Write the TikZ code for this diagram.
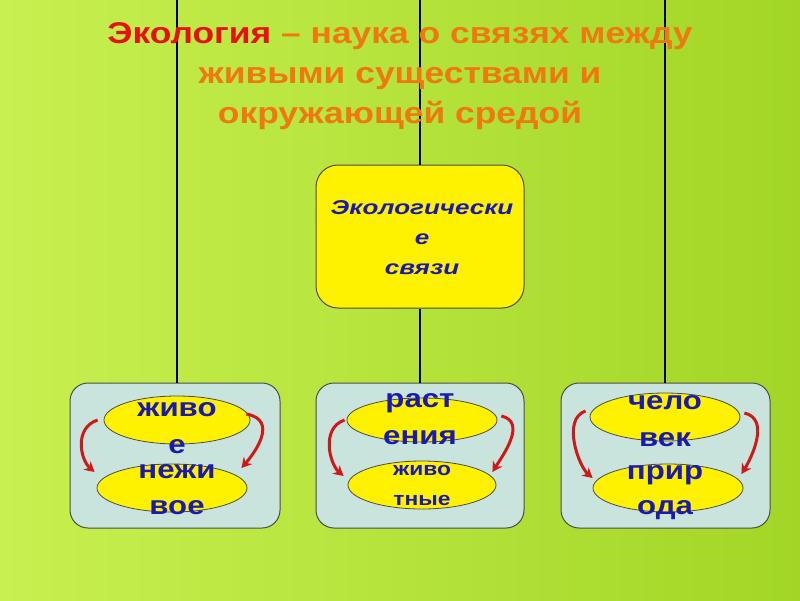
\documentclass[tikz,border=0pt]{standalone}
\usepackage{fontspec}
\setmainfont{Liberation Sans}
\usetikzlibrary{shapes.geometric,arrows.meta}
\definecolor{bgL}{HTML}{C8F050}
\definecolor{bgR}{HTML}{A2D626}
\definecolor{ttl}{HTML}{F07810}
\definecolor{ttr}{HTML}{E81010}
\definecolor{txb}{HTML}{1A1AB0}
\definecolor{boxb}{HTML}{C8E4DC}
\definecolor{arr}{HTML}{D01818}
\newcommand{\wstretch}[1]{\scalebox{1.2}[1]{#1}}
\begin{document}
\begin{tikzpicture}[x=1pt,y=-1pt,
 panel/.style={draw=black!70,line width=1pt,fill=boxb,rounded corners=18pt},
 oval/.style={ellipse,draw=black!70,line width=0.8pt,fill=yellow,inner sep=0pt},
 wtxt/.style={font=\bfseries\fontsize{26}{26}\selectfont,text=txb},
 stxt/.style={font=\bfseries\fontsize{19}{19}\selectfont,text=txb},
 carr/.style={draw=arr,line width=3pt,-{Stealth[length=10pt,width=11pt]}},
 conn/.style={draw=black,line width=1.2pt}]
\shade[left color=bgL,right color=bgR] (0,0) rectangle (800,600);
\useasboundingbox (0,0) rectangle (800,600);
\coordinate (tl) at (177,0); \coordinate (tm) at (420,0); \coordinate (tr) at (665,0);
\node[draw=black!70,line width=1pt,fill=yellow,rounded corners=22pt,minimum width=208pt,minimum height=143pt] (c) at (420,236.5) {};
\node[panel,minimum width=210pt,minimum height=145pt] (p1) at (175,455.5) {};
\node[panel,minimum width=208pt,minimum height=145pt] (p2) at (420,455.5) {};
\node[panel,minimum width=209pt,minimum height=145pt] (p3) at (665.5,455.5) {};
\draw[conn] (tl) -- (p1.north -| tl);
\draw[conn] (tr) -- (p3.north -| tr);
\draw[conn] (tm) -- (c.north);
\draw[conn] (c.south) -- (p2.north);
\node[font=\bfseries\fontsize{30}{40}\selectfont,text=ttl,align=center] (title) at (400,76)
 {\scalebox{1.18}[1]{\textcolor{ttr}{Экология} – наука о связях между}\\\scalebox{1.18}[1]{живыми существами и}\\\scalebox{1.18}[1]{окружающей средой}};
\node[font=\bfseries\itshape\fontsize{20}{30}\selectfont,text=txb,align=center] (ct) at (422,238) {\scalebox{1.3}[1]{Экологически}\\\scalebox{1.3}[1]{е}\\\scalebox{1.3}[1]{связи}};
% left
\node[oval,minimum width=146pt,minimum height=48pt] (a1) at (177,420) {};
\node[oval,minimum width=150pt,minimum height=48pt] (a2) at (172,488) {};
\node[wtxt] (a1t) at (177,410) {\wstretch{живо}};
\node[wtxt] (a1e) at (177,447) {\wstretch{е}};
\node[wtxt] (a2t) at (177,472) {\wstretch{нежи}};
\node[wtxt] (a2e) at (177,508) {\wstretch{вое}};
\draw[carr] ([xshift=-6pt]a1.west) .. controls +(-24,8) and +(-14,-12) .. ([xshift=-2pt]a2.west |- 0,472);
\draw[carr] ([xshift=-4pt,yshift=6pt]a1.east) .. controls +(32,6) and +(14,-16) .. ([xshift=-6pt]a2.east |- 0,468);
% middle
\node[oval,minimum width=150pt,minimum height=44pt] (b1) at (422,420) {};
\node[oval,minimum width=148pt,minimum height=48pt] (b2) at (422,485) {};
\node[wtxt] (b1t) at (420,403) {\wstretch{раст}};
\node[wtxt] (b1e) at (420,438) {\wstretch{ения}};
\node[stxt] (b2t) at (422,470) {\wstretch{живо}};
\node[stxt] (b2e) at (422,500) {\wstretch{тные}};
\draw[carr] ([xshift=-2pt]b1.west) .. controls +(-24,8) and +(-14,-12) .. ([xshift=-4pt]b2.west |- 0,476);
\draw[carr] ([xshift=4pt,yshift=4pt]b1.east) .. controls +(26,6) and +(10,-16) .. ([xshift=-4pt]b2.east |- 0,472);
% right
\node[oval,minimum width=150pt,minimum height=48pt] (d1) at (665,417) {};
\node[oval,minimum width=150pt,minimum height=48pt] (d2) at (668,488) {};
\node[wtxt] (d1t) at (665,403) {\wstretch{чело}};
\node[wtxt] (d1e) at (665,440) {\wstretch{век}};
\node[wtxt] (d2t) at (665,475) {\wstretch{прир}};
\node[wtxt] (d2e) at (665,510) {\wstretch{ода}};
\draw[carr] ([xshift=-4pt,yshift=6pt]d1.west) .. controls +(-24,8) and +(-14,-12) .. (d2.west |- 0,478);
\draw[carr] ([xshift=4pt,yshift=4pt]d1.east) .. controls +(26,6) and +(10,-16) .. ([xshift=-2pt]d2.east |- 0,474);
\end{tikzpicture}
\end{document}
